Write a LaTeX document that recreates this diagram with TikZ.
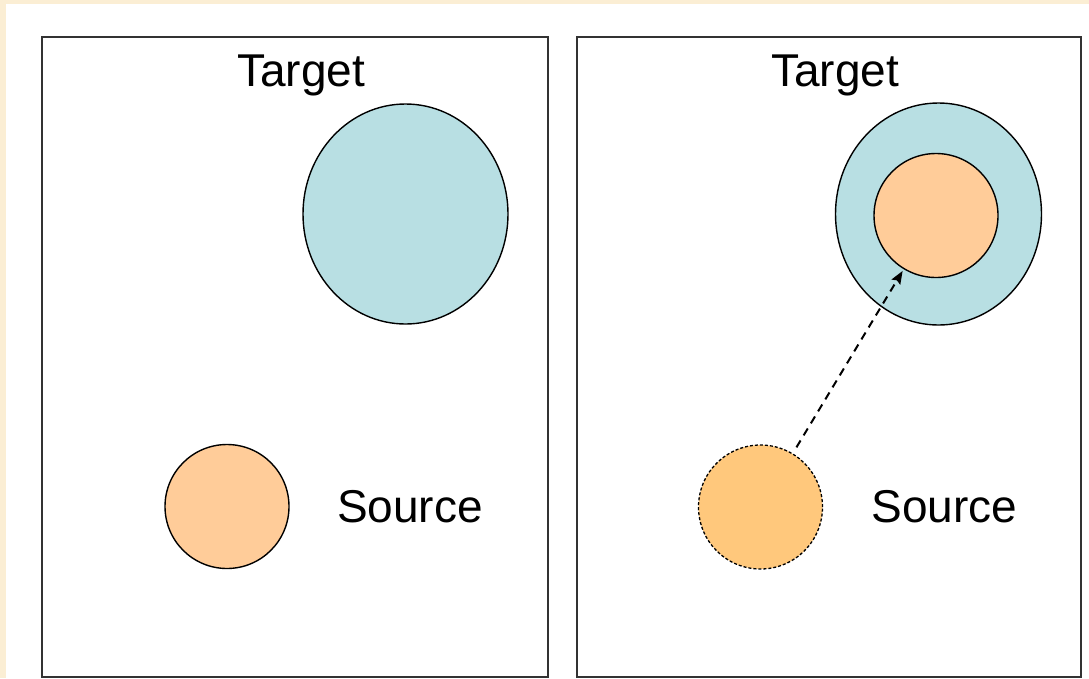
\documentclass[tikz,border=0pt]{standalone}
\usepackage{fontspec}
\setmainfont{Liberation Sans}
\usetikzlibrary{arrows.meta,shapes.geometric}
\definecolor{cream}{HTML}{FBEED4}
\definecolor{targetblue}{HTML}{B8DFE3}
\definecolor{sourceorange}{HTML}{FFCC99}
\definecolor{movedorange}{HTML}{FFC87C}
\definecolor{frame}{HTML}{333333}
\tikzset{
  panel/.style={draw=frame, line width=2pt, fill=white},
  label/.style={font=\fontsize{46}{50}\selectfont, inner sep=0pt, anchor=base},
  targetzone/.style={ellipse, draw=black, line width=1.4pt, fill=targetblue,
    minimum width=#1, inner sep=0pt},
  srcdisc/.style={circle, draw=black, line width=1.4pt, fill=sourceorange,
    minimum size=124pt, inner sep=0pt},
  ghostdisc/.style={circle, draw=black, line width=1.3pt, fill=movedorange,
    dash pattern=on 3pt off 2pt, minimum size=124pt, inner sep=0pt},
  motion/.style={line width=2pt, dash pattern=on 8pt off 6pt,
    -{Stealth[length=13pt,width=10pt,inset=2pt]}},
}
\begin{document}
\begin{tikzpicture}[x=1pt,y=-1pt]
  % page and background bands
  \fill[cream] (0,0) rectangle (1089,678);
  \fill[white] (6,3.5) rectangle (1089,678);
  \useasboundingbox (0,0) rectangle (1089,678);

  % left panel: initial configuration
  \draw[panel] (42,37) rectangle (548,677);
  \node[label] (t1) at (301,86) {Target};
  \node[targetzone=205pt, minimum height=220pt] (z1) at (405.5,214) {};
  \node[srcdisc] (s1) at (227,506.5) {};
  \node[label] (l1) at (410,522) {Source};

  % right panel: source moved into the target zone
  \draw[panel] (577,37) rectangle (1081,677);
  \node[label] (t2) at (835,86) {Target};
  \node[targetzone=206pt, minimum height=222pt] (z2) at (938.5,214) {};
  \node[srcdisc] (s2) at (936,215.5) {};
  \node[ghostdisc] (g2) at (760.5,507) {};
  \node[label] (l2) at (944.5,522) {Source};
  \draw[motion, shorten <=7pt, shorten >=2pt] (g2) -- (s2);
\end{tikzpicture}
\end{document}
